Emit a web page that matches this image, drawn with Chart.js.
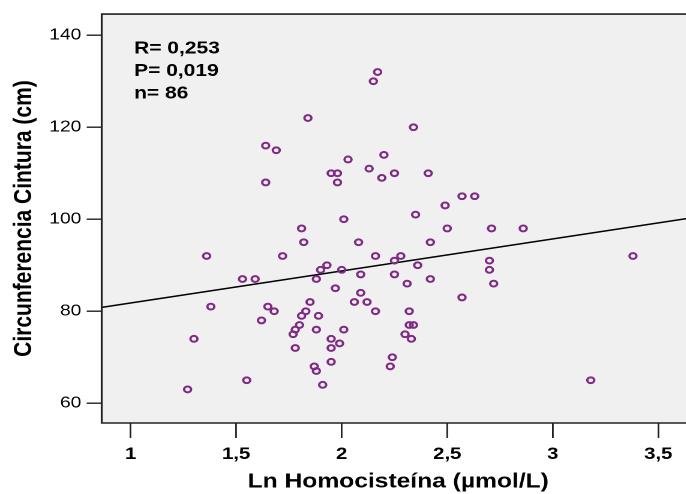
<!DOCTYPE html>
<html>
<head>
<meta charset="utf-8">
<script src="https://cdn.jsdelivr.net/npm/chart.js@4.4.1/dist/chart.umd.min.js"></script>
<style>
  html, body { margin: 0; padding: 0; background: #fff; overflow: hidden; width: 686px; height: 494px; }
  #wrap { position: absolute; left: 0; top: 0; width: 585px; height: 494px; transform: scaleX(1.2); transform-origin: 0 0; }
  #c { width: 585px; height: 494px; display: block; }
</style>
</head>
<body>
<div id="wrap"><canvas id="c" width="585" height="494"></canvas></div>
<script>
// ---- Data ----
const lnHomocisteina = [2.17,2.15,1.84,1.64,1.69,2.03,2.20,2.13,1.95,1.98,
  1.98,1.64,2.19,2.25,2.01,1.81,1.82,2.08,1.36,1.72,
  2.16,2.25,1.93,1.90,2.00,2.25,2.09,1.53,1.59,1.88,
  1.97,2.09,1.85,2.06,2.12,1.38,1.65,1.68,1.83,2.16,
  1.81,1.89,1.62,1.80,1.78,1.77,1.88,2.01,1.30,1.95,
  1.99,1.78,1.95,1.95,2.24,2.23,1.87,1.88,1.55,1.91,
  1.27,2.34,2.41,2.57,2.63,2.49,2.35,2.50,2.71,2.86,
  2.42,2.28,3.38,2.36,2.70,2.70,2.31,2.42,2.72,2.57,
  2.32,2.32,2.34,2.30,2.33,3.18];
const circunferencia = [132,130,122,116,115,113,114,111,110,110,
  108,108,109,110,100,98,95,95,92,92,
  92,91,90,89,89,88,88,87,87,87,
  85,84,82,82,82,81,81,80,80,80,
  79,79,78,77,76,75,76,76,74,74,
  73,72,72,69,70,68,68,67,65,64,
  63,120,110,105,105,103,101,98,98,98,
  95,92,92,90,91,89,86,87,86,83,
  80,77,77,75,74,65];
const fitIntercept = 74.82;
const fitSlope = 6.967;
const xTicks = [1, 1.5, 2, 2.5, 3, 3.5];
const xTickLabels = ['1', '1,5', '2', '2,5', '3', '3,5'];
const yTicks = [60, 80, 100, 120, 140];
const yTickLabels = ['60', '80', '100', '120', '140'];
const statsLines = ['R= 0,253', 'P= 0,019', 'n= 86'];
const xTitle = 'Ln Homocisteína (µmol/L)';
const yTitle = 'Circunferencia Cintura (cm)';

// ---- Axis ranges ----
const X_MIN = 0.863, X_MAX = 3.673;
const Y_MIN = 55.7, Y_MAX = 144.6;

const scatterPoints = lnHomocisteina.map((x, i) => ({ x: x, y: circunferencia[i] }));
const fitPoints = [X_MIN, X_MAX].map(x => ({ x: x, y: fitIntercept + fitSlope * x }));

const FONT = '"Liberation Sans", Arial, sans-serif';

const plotBox = {
  id: 'plotBox',
  beforeDatasetsDraw(chart) {
    const { ctx, chartArea: a } = chart;
    ctx.save();
    ctx.fillStyle = '#F0F0F0';
    ctx.fillRect(a.left, a.top, a.right - a.left, a.bottom - a.top);
    ctx.restore();
  },
  afterDraw(chart) {
    const { ctx, chartArea: a } = chart;
    ctx.save();
    ctx.strokeStyle = '#222';
    ctx.lineWidth = 1.6;
    ctx.beginPath();
    ctx.moveTo(a.right + 2, a.top);
    ctx.lineTo(a.left, a.top);
    ctx.lineTo(a.left, a.bottom);
    ctx.lineTo(a.right + 2, a.bottom);
    ctx.stroke();
    ctx.fillStyle = '#000';
    ctx.font = 'bold 17.5px ' + FONT;
    ctx.textBaseline = 'alphabetic';
    ctx.textAlign = 'left';
    statsLines.forEach((t, i) => ctx.fillText(t, 111.7, 53.3 + i * 22.5));
    ctx.restore();
  }
};

new Chart(document.getElementById('c'), {
  type: 'scatter',
  data: {
    datasets: [
      {
        type: 'line',
        data: fitPoints,
        borderColor: '#000',
        borderWidth: 1.5,
        pointRadius: 0,
        fill: false,
        order: 2
      },
      {
        type: 'scatter',
        data: scatterPoints,
        pointStyle: 'circle',
        pointRadius: 2.9,
        pointBorderWidth: 2,
        borderColor: '#7F2A84',
        backgroundColor: 'rgba(0,0,0,0)',
        order: 1
      }
    ]
  },
  plugins: [plotBox],
  options: {
    responsive: false,
    devicePixelRatio: 2,
    animation: false,
    layout: { padding: 0 },
    plugins: { legend: { display: false }, tooltip: { enabled: false } },
    scales: {
      x: {
        type: 'linear',
        min: X_MIN,
        max: X_MAX,
        afterBuildTicks: s => { s.ticks = xTicks.map(v => ({ value: v })); },
        afterFit: s => { s.height = 71; },
        ticks: {
          autoSkip: false,
          maxRotation: 0,
          padding: 6,
          color: '#000',
          font: { family: FONT, size: 17, weight: 'bold' },
          callback: (v) => { const i = xTicks.indexOf(v); return i >= 0 ? xTickLabels[i] : ''; }
        },
        grid: { drawOnChartArea: false, drawTicks: true, tickLength: 15, color: '#222', lineWidth: 1.4 },
        border: { display: false },
        title: {
          display: true,
          text: xTitle,
          color: '#000',
          font: { family: FONT, size: 20.5, weight: 'bold' },
          padding: { top: 0, bottom: 0 }
        }
      },
      y: {
        type: 'linear',
        min: Y_MIN,
        max: Y_MAX,
        afterBuildTicks: s => { s.ticks = yTicks.map(v => ({ value: v })); },
        afterFit: s => { s.width = 84.75; },
        ticks: {
          autoSkip: false,
          padding: 4.5,
          color: '#000',
          font: { family: FONT, size: 16 },
          callback: (v) => { const i = yTicks.indexOf(v); return i >= 0 ? yTickLabels[i] : ''; }
        },
        grid: { drawOnChartArea: false, drawTicks: true, tickLength: 12.5, color: '#222', lineWidth: 1.4 },
        border: { display: false },
        title: {
          display: true,
          text: yTitle,
          color: '#000',
          font: { family: FONT, size: 21, weight: 'bold' },
          padding: { top: 7.5, bottom: 0 }
        }
      }
    }
  }
});
</script>
</body>
</html>
